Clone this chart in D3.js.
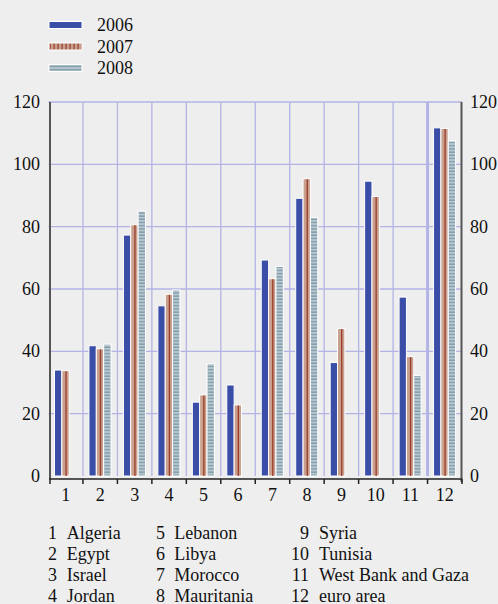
<!DOCTYPE html>
<html><head><meta charset="utf-8">
<script src="https://cdn.jsdelivr.net/npm/d3@7"></script>
<style>body{margin:0;background:#eeeeee;} svg{display:block;}</style>
</head><body>
<script>
const categories = ["1","2","3","4","5","6","7","8","9","10","11","12"];
const seriesNames = ["2006","2007","2008"];
const v2006 = [34.0, 41.8, 77.3, 54.6, 23.7, 29.2, 69.3, 89.1, 36.4, 94.6, 57.4, 111.7];
const v2007 = [33.8, 40.8, 80.6, 58.3, 26.0, 22.8, 63.3, 95.4, 47.3, 89.7, 38.3, 111.5];
const v2008 = [null, 42.3, 85.0, 59.7, 36.0, null, 67.2, 82.9, null, null, 32.2, 107.5];
const yTicks = [0, 20, 40, 60, 80, 100, 120];
const countryNums = ["1","2","3","4","5","6","7","8","9","10","11","12"];
const countryNames = ["Algeria","Egypt","Israel","Jordan","Lebanon","Libya","Morocco","Mauritania","Syria","Tunisia","West Bank and Gaza","euro area"];

const W = 498, H = 604, FS = 18;
const svg = d3.select("body").append("svg").attr("width", W).attr("height", H)
  .style("font-family", "'Liberation Serif', 'Times New Roman', serif");
svg.append("rect").attr("width", W).attr("height", H).attr("fill", "#eeeeee");

const defs = svg.append("defs");
const p7 = defs.append("pattern").attr("id","p2007").attr("patternUnits","userSpaceOnUse").attr("width",4).attr("height",4);
p7.append("rect").attr("width",4).attr("height",4).attr("fill","#c9a08e");
p7.append("rect").attr("x",1.5).attr("width",1.2).attr("height",4).attr("fill","#9a3c2c");
const p8 = defs.append("pattern").attr("id","p2008").attr("patternUnits","userSpaceOnUse").attr("width",4).attr("height",3.2);
p8.append("rect").attr("width",4).attr("height",3.2).attr("fill","#b8c8d1");
p8.append("rect").attr("y",1.2).attr("width",4).attr("height",1).attr("fill","#6e8c9b");

const x0 = 48.5, x1 = 462, yTop = 102, yBot = 476;
const x = d3.scaleBand().domain(categories).range([x0, x1]).padding(0);
const y = d3.scaleLinear().domain([0, 120]).range([yBot, yTop]);
const xs = d3.scaleBand().domain(seriesNames).range([6, x.bandwidth() - 6.4]).padding(0);

// grid
const grid = svg.append("g");
grid.selectAll("line.h").data(yTicks.filter(d => d > 0)).enter().append("line")
  .attr("x1", x0).attr("x2", x1).attr("y1", d => y(d)).attr("y2", d => y(d))
  .attr("stroke", "#b3b3e6").attr("stroke-width", 1.3);
grid.selectAll("line.v").data(categories.slice(1)).enter().append("line")
  .attr("x1", d => x(d)).attr("x2", d => x(d)).attr("y1", yTop).attr("y2", yBot)
  .attr("stroke", "#b3b3e6").attr("stroke-width", d => d === "12" ? 3 : 1.3);

// bars
const series = [
  {name: "2006", vals: v2006, fill: "#3b4ea7"},
  {name: "2007", vals: v2007, fill: "#c9a08e"},
  {name: "2008", vals: v2008, fill: "url(#p2008)"}
];
series.forEach(s => {
  const data = categories.map((c, i) => ({c, v: s.vals[i]})).filter(d => d.v != null);
  const g = svg.append("g");
  g.selectAll("rect").data(data).enter().append("rect")
    .attr("x", d => x(d.c) + xs(s.name))
    .attr("y", d => y(d.v))
    .attr("width", xs.bandwidth())
    .attr("height", d => yBot - y(d.v))
    .attr("fill", s.fill)
    .attr("stroke", "#ffffff").attr("stroke-width", 1);
  if (s.name === "2007") {
    g.selectAll("line").data(data).enter().append("line")
      .attr("x1", d => x(d.c) + xs(s.name) + xs.bandwidth() / 2 + 0.5)
      .attr("x2", d => x(d.c) + xs(s.name) + xs.bandwidth() / 2 + 0.5)
      .attr("y1", d => y(d.v) + 0.5).attr("y2", yBot)
      .attr("stroke", "#9a3c2c").attr("stroke-width", 1.3);
  }
});

// axes
svg.append("line").attr("x1", 50).attr("x2", 50).attr("y1", yTop).attr("y2", 479)
  .attr("stroke", "#555").attr("stroke-width", 2);
svg.append("line").attr("x1", 461.5).attr("x2", 461.5).attr("y1", yTop).attr("y2", 482)
  .attr("stroke", "#555").attr("stroke-width", 2);
svg.append("line").attr("x1", 49).attr("x2", 462).attr("y1", 479).attr("y2", 479)
  .attr("stroke", "#222").attr("stroke-width", 1.5);
const xt = categories.map(c => x(c)).concat([x1]);
svg.selectAll("line.xt").data(xt).enter().append("line")
  .attr("x1", (d, i) => i === 0 ? 50 : d).attr("x2", (d, i) => i === 0 ? 50 : d)
  .attr("y1", 479).attr("y2", 484).attr("stroke", "#222").attr("stroke-width", 1.5);

svg.selectAll("text.xl").data(categories).enter().append("text")
  .attr("x", d => x(d) + x.bandwidth() / 2).attr("y", 501)
  .attr("text-anchor", "middle").attr("font-size", FS).attr("fill", "#111").text(d => d);

svg.selectAll("text.yl").data(yTicks).enter().append("text")
  .attr("x", 40).attr("y", d => y(d) + 6).attr("text-anchor", "end")
  .attr("font-size", FS).attr("fill", "#111").text(d => d);
svg.selectAll("text.yr").data(yTicks).enter().append("text")
  .attr("x", 470).attr("y", d => y(d) + 6).attr("text-anchor", "start")
  .attr("font-size", FS).attr("fill", "#111").text(d => d);

// legend
const legFill = {"2006": "#3b4ea7", "2007": "url(#p2007)", "2008": "url(#p2008)"};
const lg = svg.selectAll("g.leg").data(seriesNames).enter().append("g")
  .attr("transform", (d, i) => `translate(0, ${25 + i * 21.5})`);
lg.append("rect").attr("x", 49).attr("y", -3.5).attr("width", 33).attr("height", 7)
  .attr("fill", d => legFill[d]).attr("stroke", "#fff").attr("stroke-width", 1);
lg.append("text").attr("x", 97).attr("y", 6).attr("font-size", FS).attr("fill", "#111").text(d => d);

// country key
const numRight = [57, 165, 309], nameLeft = [66.7, 174.3, 319];
countryNames.forEach((n, i) => {
  const col = Math.floor(i / 4), row = i % 4;
  const yy = 539 + row * 21;
  svg.append("text").attr("x", numRight[col]).attr("y", yy).attr("text-anchor", "end")
    .attr("font-size", FS).attr("fill", "#111").text(countryNums[i]);
  svg.append("text").attr("x", nameLeft[col]).attr("y", yy)
    .attr("font-size", FS).attr("fill", "#111").text(n);
});
</script>
</body></html>
